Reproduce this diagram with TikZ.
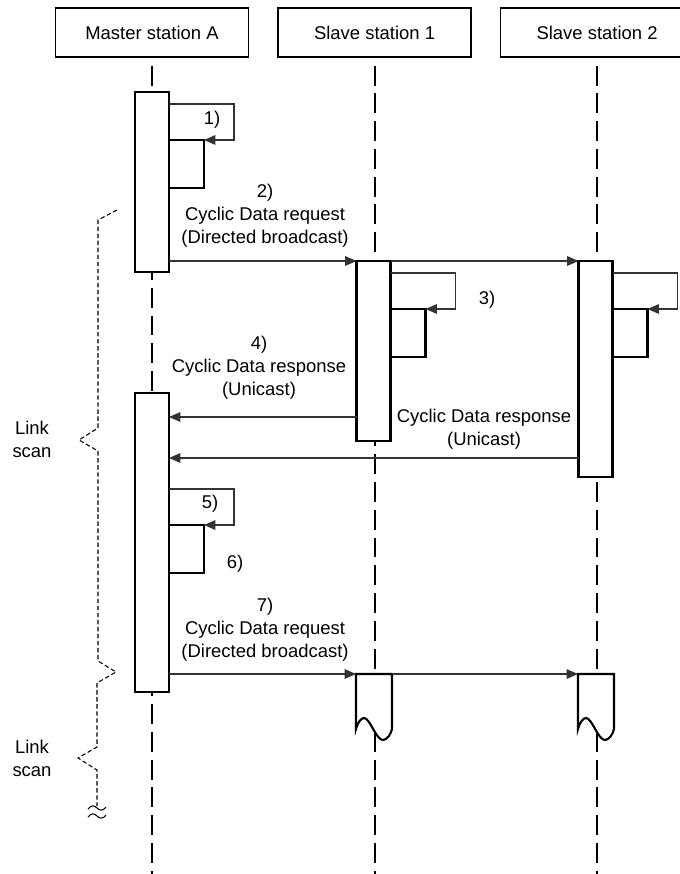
\documentclass[tikz,border=0pt]{standalone}
\usepackage{fontspec}
\setmainfont{Liberation Sans}
\usetikzlibrary{positioning, arrows.meta}

\begin{document}
\begin{tikzpicture}[x=0.02cm, y=-0.02cm,
  every node/.style={font=\fontsize{10.5}{13}\selectfont},
  head/.style={draw, line width=0.9pt, minimum width=3.86cm, minimum height=0.98cm, inner sep=0pt},
  lifeline/.style={line width=1.1pt, dash pattern=on 11.3pt off 4.5pt, dash phase=11.3pt},
  act/.style={draw, fill=white, line width=1.2pt, minimum width=0.68cm, inner sep=0pt, outer sep=0pt},
  msg/.style={line width=0.6pt, draw=black!80, -{Triangle[length=6.5pt, width=5.5pt]}},
  lbl/.style={align=center, inner sep=0pt},
  scan/.style={line width=0.6pt, dash pattern=on 2.5pt off 1.5pt}]

  \useasboundingbox (0,0) rectangle (679,874);

  % stations
  \node[head] (master) at (152,32.5) {Master station A};
  \node[head, right=0.56cm of master] (slave1) {Slave station 1};
  \node[head, right=0.56cm of slave1] (slave2) {Slave station 2};

  \foreach \n in {master, slave1, slave2}
    \draw[lifeline] (\n.south) -- (\n.south |- 0,874);

  % activations
  \node[act, anchor=north, minimum height=3.6cm]  (barA1) at (152,92) {};
  \node[act, anchor=north, minimum height=5.98cm] (barA2) at (152,393) {};
  \node[act, anchor=north, minimum height=3.6cm]  (barS1) at (373.5,261) {};
  \node[act, anchor=north, minimum height=4.32cm] (barS2) at (595.5,261) {};

  % self calls
  \foreach \b/\y in {barA1/104, barS1/273, barS2/273, barA2/489} {
    \node[act, anchor=north west, minimum width=0.7cm, minimum height=0.96cm]
      (\b-in) at (\b.east |- 0,\y+36) {};
    \draw[msg] (\b.east |- 0,\y) -- ++(65,0) |- (\b-in.north east);
  }

  % next scan, cut off
  \foreach \n/\x in {S1/356, S2/578} {
    \draw[act] (\x,729) .. controls (\x+2,722) and (\x+5,718) .. (\x+8,718)
      .. controls (\x+14,718) and (\x+20,740) .. (\x+27,740)
      .. controls (\x+31,740) and (\x+35,734) .. (\x+36,729)
      -- (\x+36,674) -- (\x,674) -- cycle;
    \coordinate (torn\n) at (\x,674);
    \coordinate (torn\n-e) at (\x+36,674);
  }

  % messages
  \draw[msg] (barA1.east |- barS1.north) -- (barS1.north west);
  \draw[msg] (barS1.north east) -- (barS2.north west);
  \draw[msg] (barS1.west |- 0,417) -- (barA2.east |- 0,417);
  \draw[msg] (barS2.west |- 0,458) -- (barA2.east |- 0,458);
  \draw[msg] (barA2.east |- tornS1) -- (tornS1);
  \draw[msg] (tornS1-e) -- (tornS2);

  \node[lbl] (l1) at (212,120) {1)};
  \node[lbl] (l2) at (265,216) {2)\\Cyclic Data request\\(Directed broadcast)};
  \node[lbl] (l3) at (487,300) {3)};
  \node[lbl] (l4) at (259,368) {4)\\Cyclic Data response\\(Unicast)};
  \node[lbl] (l4b) at (484,429) {Cyclic Data response\\(Unicast)};
  \node[lbl] (l5) at (210,504) {5)};
  \node[lbl] (l6) at (235,564) {6)};
  \node[lbl] (l7) at (265,630) {7)\\Cyclic Data request\\(Directed broadcast)};

  % link scan
  \node[lbl] (scan1) at (32,439) {Link\\scan};
  \node[lbl] (scan2) at (32,758) {Link\\scan};
  \draw[scan] (117,210) -- (98,220) -- (98,428) -- (79,440) -- (98,451)
    -- (98,661) -- (116,672) -- (97,683) -- (97,747) -- (78,758) -- (97,770) -- (97,806);
  \draw[line width=0.6pt] (88,809) .. controls (91,805) and (94,805) .. (97,808)
    .. controls (100,811) and (103,811) .. (106,807);
  \draw[line width=0.6pt] (88,817) .. controls (91,813) and (94,813) .. (97,816)
    .. controls (100,819) and (103,819) .. (106,815);
\end{tikzpicture}
\end{document}
